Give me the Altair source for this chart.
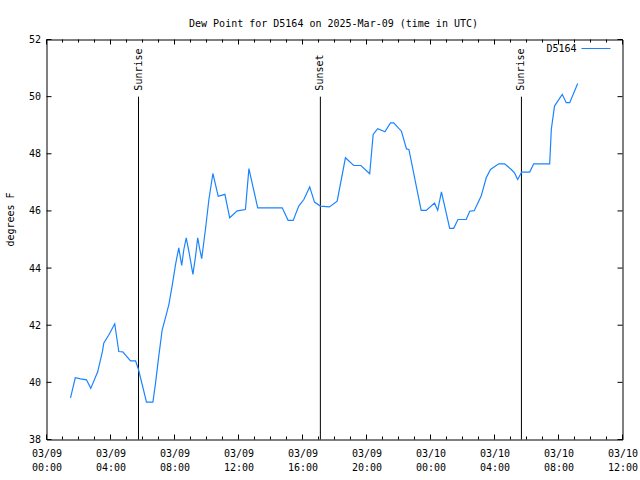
import altair as alt
import pandas as pd
from datetime import datetime, timezone, timedelta

# ---- data ----
times = [
    "2025-03-09T01:30", "2025-03-09T01:48", "2025-03-09T02:08", "2025-03-09T02:30",
    "2025-03-09T02:46", "2025-03-09T03:12", "2025-03-09T03:30", "2025-03-09T03:35",
    "2025-03-09T03:53", "2025-03-09T04:16", "2025-03-09T04:31", "2025-03-09T04:46",
    "2025-03-09T05:15", "2025-03-09T05:34", "2025-03-09T05:45", "2025-03-09T06:15",
    "2025-03-09T06:39", "2025-03-09T06:49", "2025-03-09T07:01", "2025-03-09T07:14",
    "2025-03-09T07:26", "2025-03-09T07:39", "2025-03-09T07:51", "2025-03-09T08:04",
    "2025-03-09T08:16", "2025-03-09T08:27", "2025-03-09T08:35", "2025-03-09T08:44",
    "2025-03-09T08:55", "2025-03-09T09:09", "2025-03-09T09:19", "2025-03-09T09:27",
    "2025-03-09T09:35", "2025-03-09T09:42", "2025-03-09T09:56", "2025-03-09T10:09",
    "2025-03-09T10:24", "2025-03-09T10:44", "2025-03-09T11:09", "2025-03-09T11:27",
    "2025-03-09T11:55", "2025-03-09T12:26", "2025-03-09T12:39", "2025-03-09T13:12",
    "2025-03-09T14:44", "2025-03-09T15:06", "2025-03-09T15:25", "2025-03-09T15:46",
    "2025-03-09T16:05", "2025-03-09T16:27", "2025-03-09T16:45", "2025-03-09T17:07",
    "2025-03-09T17:41", "2025-03-09T18:10", "2025-03-09T18:41", "2025-03-09T19:12",
    "2025-03-09T19:39", "2025-03-09T20:12", "2025-03-09T20:25", "2025-03-09T20:42",
    "2025-03-09T21:09", "2025-03-09T21:30", "2025-03-09T21:42", "2025-03-09T22:11",
    "2025-03-09T22:30", "2025-03-09T22:39", "2025-03-09T23:25", "2025-03-09T23:44",
    "2025-03-10T00:15", "2025-03-10T00:27", "2025-03-10T00:41", "2025-03-10T01:12",
    "2025-03-10T01:27", "2025-03-10T01:43", "2025-03-10T02:14", "2025-03-10T02:27",
    "2025-03-10T02:44", "2025-03-10T03:10", "2025-03-10T03:29", "2025-03-10T03:45",
    "2025-03-10T04:16", "2025-03-10T04:38", "2025-03-10T05:03", "2025-03-10T05:15",
    "2025-03-10T05:27", "2025-03-10T05:42", "2025-03-10T06:12", "2025-03-10T06:27",
    "2025-03-10T07:27", "2025-03-10T07:33", "2025-03-10T07:45", "2025-03-10T08:14",
    "2025-03-10T08:29", "2025-03-10T08:42", "2025-03-10T09:12",
]
dewpoint = [
    39.46, 40.16, 40.12, 40.09, 39.79, 40.37, 41.09, 41.38,
    41.65, 42.05, 41.08, 41.07, 40.75, 40.75, 40.45, 39.31,
    39.31, 39.98, 40.92, 41.85, 42.26, 42.73, 43.37, 44.13,
    44.71, 44.09, 44.65, 45.06, 44.53, 43.78, 44.42, 45.06,
    44.65, 44.33, 45.35, 46.40, 47.31, 46.51, 46.58, 45.76,
    46.00, 46.05, 47.48, 46.11, 46.11, 45.67, 45.67, 46.17,
    46.40, 46.84, 46.31, 46.17, 46.14, 46.34, 47.86, 47.59,
    47.59, 47.30, 48.68, 48.88, 48.77, 49.08, 49.08, 48.79,
    48.17, 48.15, 46.02, 46.02, 46.28, 46.02, 46.67, 45.39,
    45.39, 45.70, 45.70, 45.99, 46.01, 46.52, 47.16, 47.45,
    47.65, 47.65, 47.45, 47.33, 47.10, 47.36, 47.36, 47.65,
    47.65, 48.85, 49.67, 50.08, 49.79, 49.79, 50.46,
]
event_times = ["2025-03-09T05:45", "2025-03-09T17:07", "2025-03-10T05:41"]
event_labels = ["Sunrise", "Sunset", "Sunrise"]
y_ticks = [38, 40, 42, 44, 46, 48, 50, 52]
station = "D5164"
title_text = "Dew Point for D5164 on 2025-Mar-09 (time in UTC)"

# ---- build tables ----
start = datetime(2025, 3, 9, 0, 0, tzinfo=timezone.utc)
end = start + timedelta(hours=36)
def ms(d):
    return int(d.timestamp() * 1000)

df = pd.DataFrame({"t": [s + ":00Z" for s in times], "v": dewpoint})
ev = pd.DataFrame({"t": [s + ":00Z" for s in event_times], "label": event_labels})
major_hours = list(range(0, 37, 4))
minor_hours = [h for h in range(0, 37) if h % 4 != 0]
major_df = pd.DataFrame({"t": [(start + timedelta(hours=h)).strftime("%Y-%m-%dT%H:%M:00Z") for h in major_hours]})
minor_df = pd.DataFrame({"t": [(start + timedelta(hours=h)).strftime("%Y-%m-%dT%H:%M:00Z") for h in minor_hours]})
yt_df = pd.DataFrame({"v": y_ticks})

W, H = 576, 400
FONT = "DejaVu Sans Mono"
BLUE = "#1a84ff"

xscale = alt.Scale(type="utc", domain=[ms(start), ms(end)])
yscale = alt.Scale(domain=[38, 52], nice=False, zero=False)

xaxis = alt.Axis(
    values=[ms(start + timedelta(hours=h)) for h in major_hours],
    labelExpr="[utcFormat(datum.value, '%m/%d'), utcFormat(datum.value, '%H:%M')]",
    ticks=False, domain=False, grid=False, title=None,
    labelFlush=False, labelOverlap=False, labelPadding=9,
    labelFont=FONT, labelFontSize=10, labelColor="black",
    labelLineHeight=14, labelBaseline="top",
)
yaxis = alt.Axis(
    values=y_ticks, ticks=False, domain=False, grid=False, title=None,
    labelPadding=6, labelFont=FONT, labelFontSize=10, labelColor="black",
    labelFlush=False,
)

line = alt.Chart(df).mark_line(color=BLUE, strokeWidth=1.2, clip=True).encode(
    x=alt.X("t:T", scale=xscale, axis=xaxis),
    y=alt.Y("v:Q", scale=yscale, axis=yaxis),
)

ev_rule = alt.Chart(ev).mark_rule(color="black", strokeWidth=1).encode(
    x=alt.X("t:T", scale=xscale),
    y=alt.datum(50), y2=alt.datum(38),
)
ev_text = alt.Chart(ev).mark_text(
    font=FONT, fontSize=10, angle=270, align="left", baseline="middle", dx=6, color="black"
).encode(
    x=alt.X("t:T", scale=xscale),
    y=alt.datum(50),
    text="label:N",
)

tick_major_b = alt.Chart(major_df).mark_rule(color="black").encode(
    x=alt.X("t:T", scale=xscale), y=alt.value(H), y2=alt.value(H - 5))
tick_major_t = alt.Chart(major_df).mark_rule(color="black").encode(
    x=alt.X("t:T", scale=xscale), y=alt.value(0), y2=alt.value(5))
tick_minor_b = alt.Chart(minor_df).mark_rule(color="black").encode(
    x=alt.X("t:T", scale=xscale), y=alt.value(H), y2=alt.value(H - 3))
tick_minor_t = alt.Chart(minor_df).mark_rule(color="black").encode(
    x=alt.X("t:T", scale=xscale), y=alt.value(0), y2=alt.value(3))
ytick_l = alt.Chart(yt_df).mark_rule(color="black").encode(
    y=alt.Y("v:Q", scale=yscale), x=alt.value(0), x2=alt.value(5))
ytick_r = alt.Chart(yt_df).mark_rule(color="black").encode(
    y=alt.Y("v:Q", scale=yscale), x=alt.value(W), x2=alt.value(W - 5))

title = alt.Chart(pd.DataFrame({"s": [title_text]})).mark_text(
    font=FONT, fontSize=10, align="center", baseline="middle", color="black"
).encode(x=alt.value(W / 2 - 1), y=alt.value(-16), text="s:N")

ytitle = alt.Chart(pd.DataFrame({"s": ["degrees F"]})).mark_text(
    font=FONT, fontSize=10, angle=270, align="center", baseline="middle", color="black"
).encode(x=alt.value(-36), y=alt.value(H / 2 - 20), text="s:N")

leg_text = alt.Chart(pd.DataFrame({"s": [station]})).mark_text(
    font=FONT, fontSize=10, align="right", baseline="middle", color="black"
).encode(x=alt.value(530), y=alt.value(9), text="s:N")
leg_line = alt.Chart(pd.DataFrame({"s": [station]})).mark_rule(color=BLUE, strokeWidth=1).encode(
    x=alt.value(535), x2=alt.value(564), y=alt.value(9))

chart = alt.layer(
    tick_major_b, tick_major_t, tick_minor_b, tick_minor_t, ytick_l, ytick_r,
    ev_rule, ev_text, line, title, ytitle, leg_text, leg_line,
).properties(
    width=W, height=H,
    autosize=alt.AutoSizeParams(type="none"),
    padding={"left": 46.5, "top": 39.5, "right": 17.5, "bottom": 40.5},
    background="white",
).configure_view(stroke="black", strokeWidth=1)

chart.save("out.html", embed_options={"renderer": "svg", "actions": False})
